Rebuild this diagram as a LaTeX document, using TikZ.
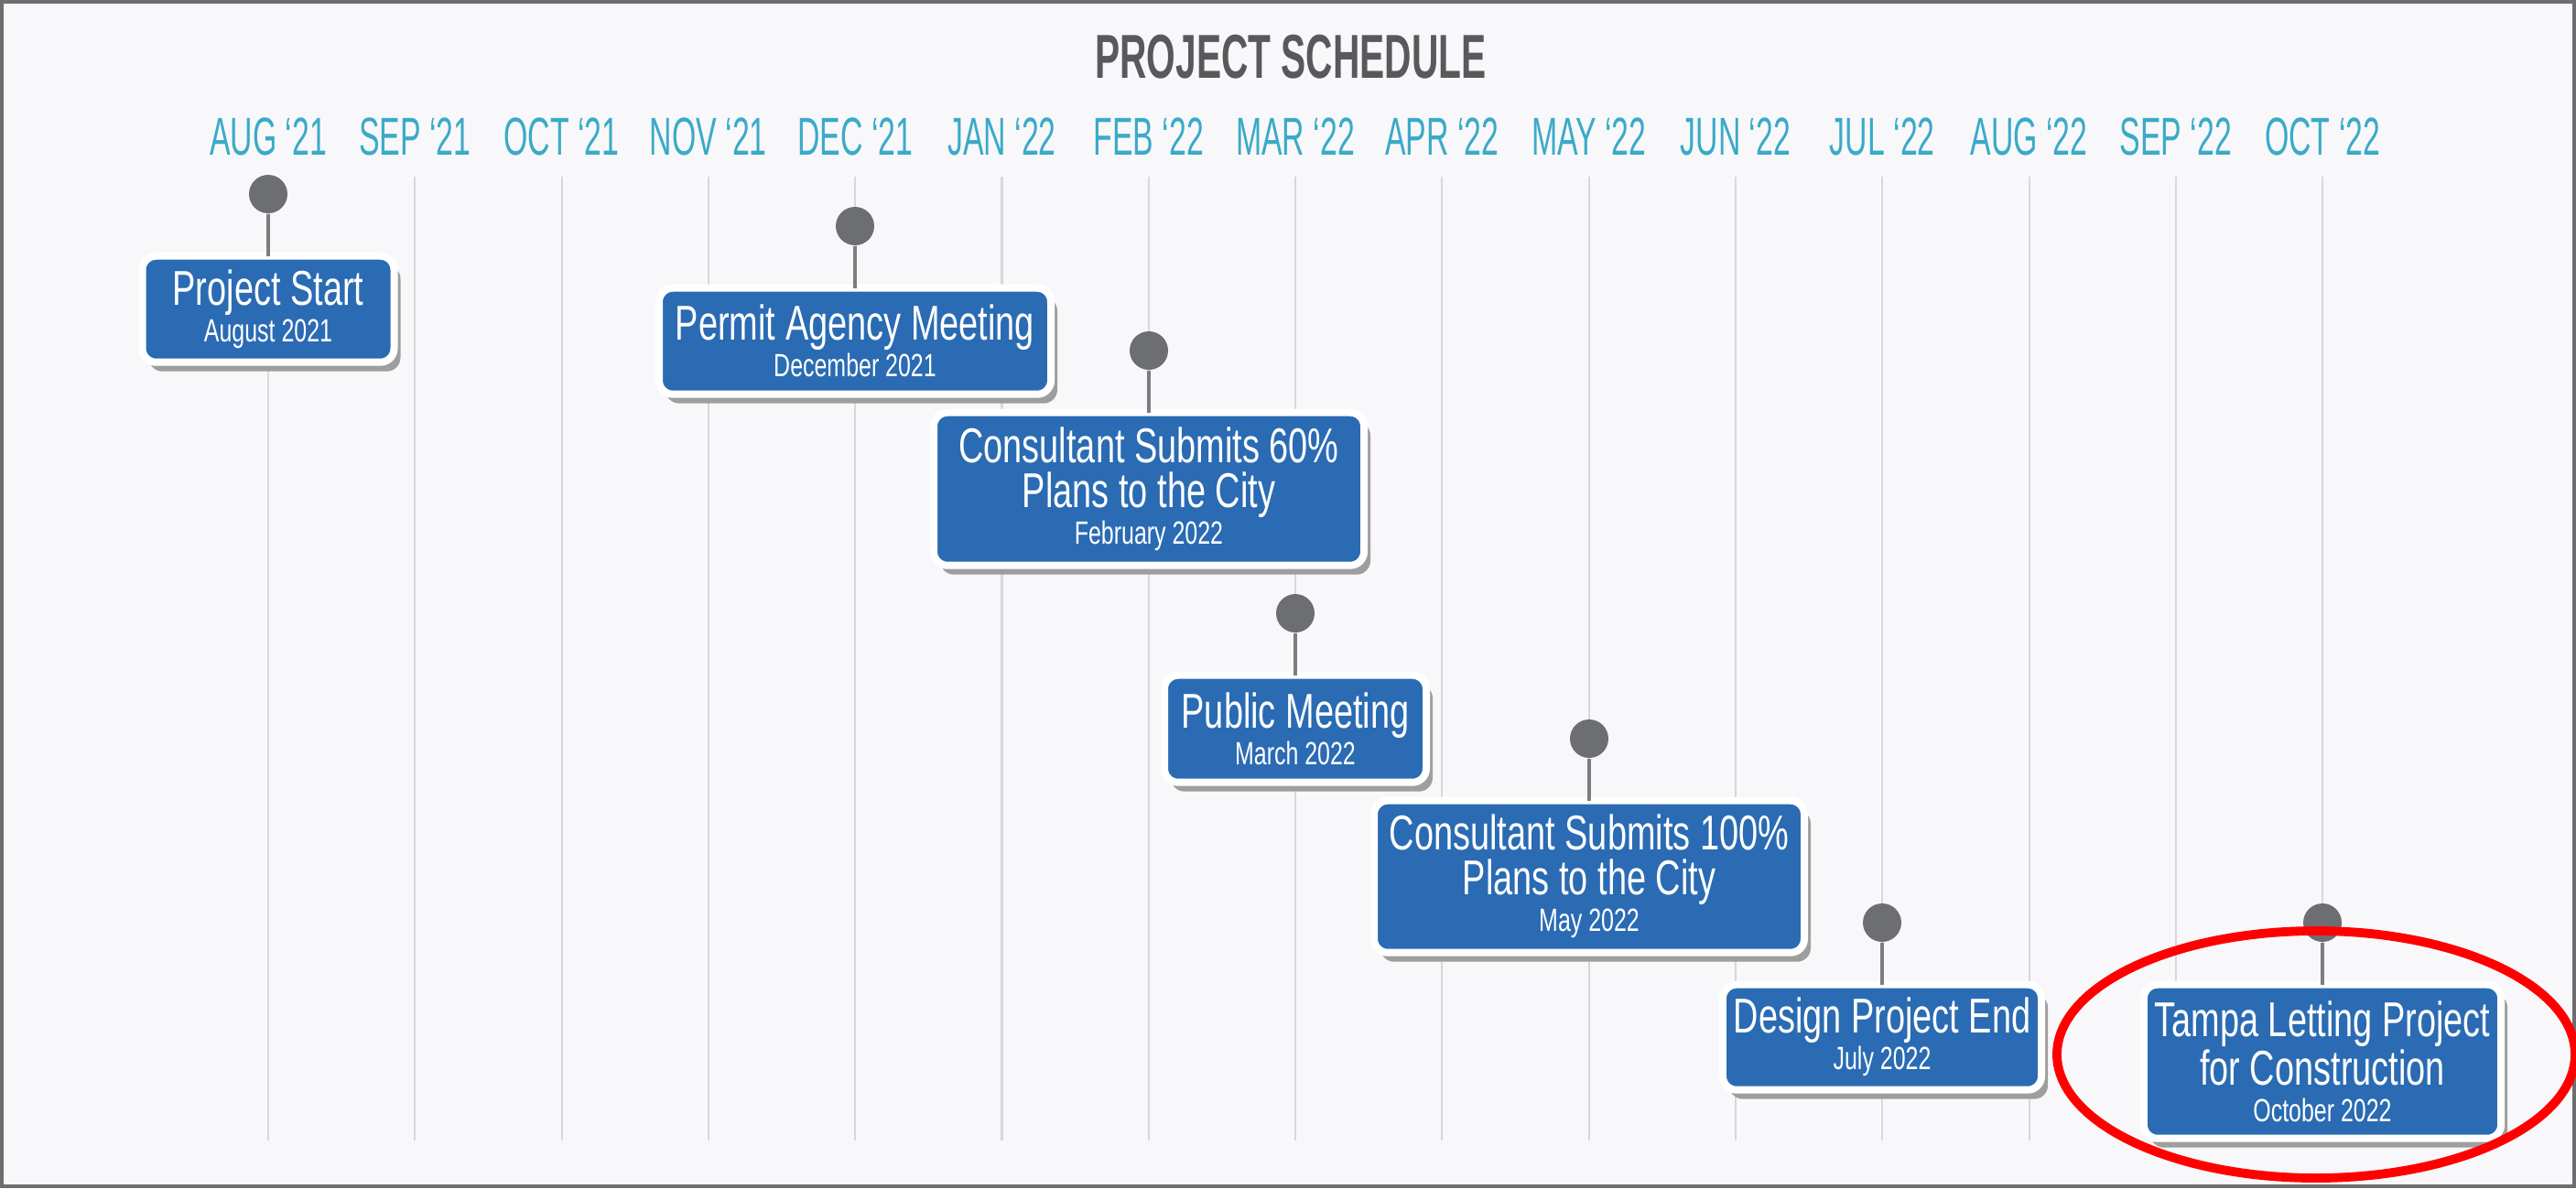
\documentclass[tikz,border=0pt]{standalone}
\usepackage{fontspec}
\usepackage{xcolor}
\usetikzlibrary{positioning}
\usetikzlibrary{shadows}
\setmainfont{Liberation Sans}
\newfontfamily\boxfont{Liberation Sans}[FakeStretch=0.71]
\newfontfamily\monthfont{Liberation Sans}[FakeStretch=0.58]
\newfontfamily\titlefont{Liberation Sans}[FakeStretch=0.6]
\definecolor{boxblue}{HTML}{2A6BB3}
\definecolor{monthteal}{HTML}{3AAAC8}
\definecolor{titlegray}{HTML}{58595B}
\definecolor{dotgray}{HTML}{6D6E72}
\definecolor{stemgray}{HTML}{7D7D80}
\definecolor{gridgray}{HTML}{D8D8DB}
\definecolor{bgcolor}{HTML}{F8F8FA}
\definecolor{framegray}{HTML}{6E6E70}
\newcommand{\dateline}[1]{{\fontsize{10pt}{13.9pt}\selectfont #1}}

\begin{document}
\begin{tikzpicture}
        % ================= 样式定义 =================
        \tikzset{
            % 标题
            title/.style={anchor=base, text=titlegray, font=\titlefont\bfseries\fontsize{19.3pt}{22pt}\selectfont},
            % 月份
            month/.style={anchor=base, text=monthteal, font=\monthfont\fontsize{16.6pt}{18pt}\selectfont},
            % 竖直网格线
            gridline/.style={line width=0.6pt, gridgray},
            % 里程碑圆点
            dotnode/.style={circle, fill=dotgray, minimum size=0.42cm, inner sep=0pt},
            % 里程碑方框
            box/.style={rectangle, rounded corners=0.15cm, fill=boxblue, draw=white, line width=0.08cm,
                outer sep=0pt, align=center, text=white,
                font=\boxfont\fontsize{15.2pt}{13.9pt}\selectfont,
                drop shadow={shadow xshift=0.07cm, shadow yshift=-0.1cm, fill=black!38, opacity=1}},
            % 连接线
            stem/.style={line width=1pt, stemgray},
            % 红色椭圆圈
            ring/.style={line width=2.8pt, red}
        }

        % ================= 背景与边框 =================
        \useasboundingbox (0,0) rectangle (28.14,-12.98);
        \fill[bgcolor] (0,0) rectangle (28.14,-12.98);
        \draw[line width=0.04cm, framegray] (0.02,-0.02) rectangle (28.12,-12.96);

        \node[title] (title) at (14.1,-0.85) {PROJECT SCHEDULE};

        % ================= 月份与网格线 =================
        \foreach \m [count=\i from 0] in {AUG ‘21, SEP ‘21, OCT ‘21, NOV ‘21, DEC ‘21, JAN ‘22, FEB ‘22,
                MAR ‘22, APR ‘22, MAY ‘22, JUN ‘22, JUL ‘22, AUG ‘22, SEP ‘22, OCT ‘22} {
            \node[month] (m\i) at ({2.93+1.603*\i},-1.69) {\m};
            \coordinate (g\i) at ({2.93+1.603*\i},-1.93);
            \draw[gridline] (g\i) -- ++(0,-10.53);
        }

        % ================= 里程碑 =================
        \node[dotnode] (d1) at (2.93,-2.12) {};
        \node[dotnode] (d2) at (9.34,-2.47) {};
        \node[dotnode] (d3) at (12.55,-3.83) {};
        \node[dotnode] (d4) at (14.15,-6.70) {};
        \node[dotnode] (d5) at (17.36,-8.07) {};
        \node[dotnode] (d6) at (20.56,-10.08) {};
        \node[dotnode] (d7) at (25.37,-10.08) {};

        \node[box, minimum width=2.75cm, minimum height=1.16cm, below=0.46cm of d1] (b1)
            {Project Start\\[-2.5pt]\dateline{August 2021}};
        \node[box, minimum width=4.28cm, minimum height=1.16cm, below=0.46cm of d2] (b2)
            {Permit Agency Meeting\\[-2.5pt]\dateline{December 2021}};
        \node[box, minimum width=4.70cm, minimum height=1.67cm, below=0.46cm of d3] (b3)
            {Consultant Submits 60\%\\Plans to the City\\[-2.5pt]\dateline{February 2022}};
        \node[box, minimum width=2.86cm, minimum height=1.17cm, below=0.46cm of d4] (b4)
            {Public Meeting\\[-2.5pt]\dateline{March 2022}};
        \node[box, minimum width=4.70cm, minimum height=1.66cm, below=0.46cm of d5] (b5)
            {Consultant Submits 100\%\\Plans to the City\\[-2.5pt]\dateline{May 2022}};
        \node[box, minimum width=3.43cm, minimum height=1.15cm, below=0.46cm of d6] (b6)
            {Design Project End\\[-2.5pt]\dateline{July 2022}};
        \node[box, minimum width=3.87cm, minimum height=1.68cm, below=0.46cm of d7] (b7)
            {Tampa Letting Project\\for Construction\\[-2.5pt]\dateline{October 2022}};

        % 圆点与方框之间的连接线
        \foreach \k in {1,...,7} {
            \draw[stem] (d\k) -- (b\k);
        }

        % 最后一项的红色椭圆
        \draw[ring] (25.30,-11.52) ellipse [x radius=2.83, y radius=1.35];

\end{tikzpicture}
\end{document}
